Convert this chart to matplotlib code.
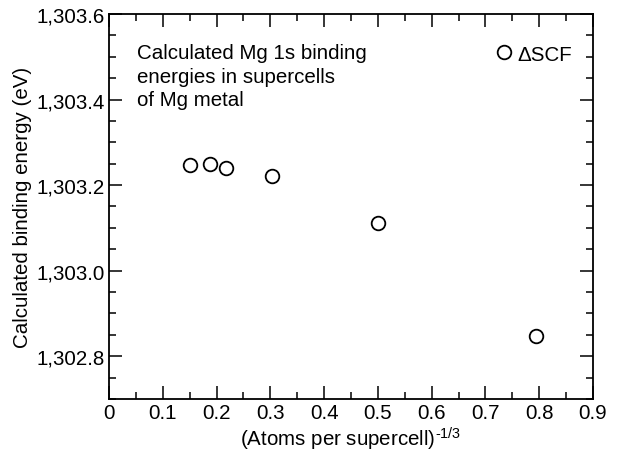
import matplotlib
matplotlib.use("Agg")
import matplotlib.pyplot as plt
from matplotlib.ticker import MultipleLocator, FuncFormatter

plt.rcParams['font.family'] = ['Liberation Sans', 'DejaVu Sans']
plt.rcParams['mathtext.fontset'] = 'custom'
plt.rcParams['mathtext.rm'] = 'Liberation Sans'
plt.rcParams['mathtext.it'] = 'Liberation Sans'

# Data
x_vals = [0.151, 0.187, 0.218, 0.303, 0.500, 0.794]
energies = [1303.248, 1303.249, 1303.239, 1303.221, 1303.111, 1302.848]
series_label = "ΔSCF"
annotation = "Calculated Mg 1s binding\nenergies in supercells\nof Mg metal"

FS = 14.8

fig = plt.figure(figsize=(6.18, 4.52), dpi=100)
ax = fig.add_axes([109/618, 1-400/452, (593-109)/618, (400-15)/452])

ax.plot(x_vals, energies, linestyle='none', marker='o', markersize=9.8,
        markerfacecolor='white', markeredgecolor='black', markeredgewidth=1.3,
        label=series_label)

ax.set_xlim(0, 0.9)
ax.set_ylim(1302.7, 1303.6)
ax.xaxis.set_major_locator(MultipleLocator(0.1))
ax.xaxis.set_minor_locator(MultipleLocator(0.05))
ax.yaxis.set_major_locator(MultipleLocator(0.2))
ax.yaxis.set_minor_locator(MultipleLocator(0.05))
ax.xaxis.set_major_formatter(FuncFormatter(lambda v, p: '0' if abs(v) < 1e-9 else f"{v:.1f}"))
ax.yaxis.set_major_formatter(FuncFormatter(lambda v, p: f"{v:,.1f}"))

ax.tick_params(which='both', direction='in', top=True, right=True, width=1.1, labelsize=FS, colors='black')
ax.tick_params(which='major', length=9.5, pad=3)
ax.tick_params(which='minor', length=5)
for s in ax.spines.values():
    s.set_linewidth(1.3)

ax.set_xlabel(r"(Atoms per supercell)$^{\text{-1/3}}$", fontsize=FS, labelpad=2)
ax.set_ylabel("Calculated binding energy (eV)", fontsize=FS, labelpad=3)

ax.text(0.057, 0.925, annotation, transform=ax.transAxes, fontsize=FS,
        va='top', ha='left', linespacing=1.32)

ax.legend(loc='upper right', bbox_to_anchor=(0.973, 0.942), frameon=False, fontsize=FS,
          handlelength=0.8, handletextpad=0.25, borderaxespad=0.0, numpoints=1)

fig.savefig("out.png", dpi=100)
